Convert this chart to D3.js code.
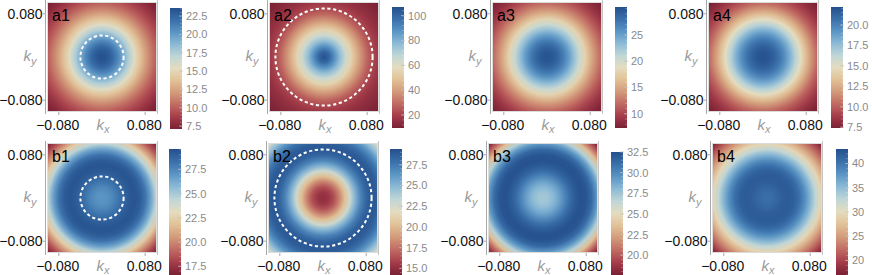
<!DOCTYPE html>
<html>
<head>
<meta charset="utf-8">
<script src="https://cdn.jsdelivr.net/npm/d3@7"></script>
<style>
  html, body { margin: 0; padding: 0; background: #fff; }
  svg { display: block; }
  text { font-family: "Liberation Sans", Arial, sans-serif; }
</style>
</head>
<body>
<svg id="chart" width="872" height="275"></svg>
<script>
// ---------------- DATA ----------------
const panelNames = ["a1", "a2", "a3", "a4", "b1", "b2", "b3", "b4"];
// radial distance |k| at which the radial profiles are sampled
const radii = [0, 0.01, 0.02, 0.03, 0.04, 0.05, 0.06, 0.07, 0.08, 0.09, 0.10, 0.11, 0.12, 0.13, 0.14];
// radial profiles (value vs |k|)
const profileA1 = [23.5, 23.2, 22.3, 20.9, 19.2, 17.4, 15.6, 13.9, 12.4, 11.1, 10.0, 9.1, 8.3, 7.6, 7.1];
const profileA2 = [106, 100, 88, 76, 65, 55, 45, 36, 28, 22, 18, 15, 13, 11.2, 9.8];
const profileA3 = [30.0, 29.7, 28.8, 27.3, 25.3, 23.0, 20.5, 18.0, 15.6, 13.5, 11.8, 10.3, 9.1, 8.1, 7.4];
const profileA4 = [22.0, 21.9, 21.4, 20.6, 19.5, 18.1, 16.5, 14.8, 13.1, 11.6, 10.3, 9.3, 8.5, 7.9, 7.4];
const profileB1 = [27.0, 27.1, 27.5, 28.1, 28.7, 29.2, 29.4, 29.1, 28.2, 26.6, 24.5, 22.3, 20.2, 18.4, 16.9];
const profileB2 = [15.0, 15.3, 16.3, 18.0, 20.2, 22.8, 25.2, 27.1, 28.4, 29.0, 28.8, 27.9, 26.5, 24.6, 22.5];
const profileB3 = [27.3, 27.5, 28.1, 29.0, 30.1, 31.2, 32.0, 32.4, 32.2, 31.3, 29.4, 26.8, 23.5, 20.5, 18.0];
const profileB4 = [40.5, 40.7, 41.3, 41.9, 42.1, 41.7, 40.4, 38.3, 35.6, 32.5, 29.3, 26.2, 23.3, 20.5, 17.5];
const profiles = [profileA1, profileA2, profileA3, profileA4, profileB1, profileB2, profileB3, profileB4];
// dashed white circle radius (in k units), 0 = none
const circleRadii = [0.04, 0.09, 0, 0, 0.04, 0.09, 0, 0];
// axis ticks
const kTicks = [-0.08, 0.08];
const cbarTicksA1 = [7.5, 10, 12.5, 15, 17.5, 20, 22.5];
const cbarTicksA2 = [20, 40, 60, 80, 100];
const cbarTicksA3 = [10, 15, 20, 25];
const cbarTicksA4 = [7.5, 10, 12.5, 15, 17.5, 20];
const cbarTicksB1 = [17.5, 20, 22.5, 25, 27.5];
const cbarTicksB2 = [15, 17.5, 20, 22.5, 25, 27.5];
const cbarTicksB3 = [20, 22.5, 25, 27.5, 30, 32.5];
const cbarTicksB4 = [20, 25, 30, 35, 40];
const cbarTicks = [cbarTicksA1, cbarTicksA2, cbarTicksA3, cbarTicksA4, cbarTicksB1, cbarTicksB2, cbarTicksB3, cbarTicksB4];
const cbarFormats = [".1f", "d", "d", ".1f", ".1f", ".1f", ".1f", "d"];
const cbarDomains = [[7.1, 23.6], [9.5, 107], [7.3, 30.3], [7.4, 22.2], [16.6, 29.6], [14.2, 29.4], [17.6, 32.5], [17.0, 43.0]];

// ---------------- LAYOUT / STYLE ----------------
const layout = [
  { x: 48,  y: 3,   cx: 170, cy: 8,   ch: 121 },
  { x: 270, y: 3,   cx: 392, cy: 7,   ch: 121 },
  { x: 493, y: 3,   cx: 615, cy: 7,   ch: 121 },
  { x: 709, y: 3,   cx: 831, cy: 7,   ch: 121 },
  { x: 48,  y: 144, cx: 169, cy: 149, ch: 126 },
  { x: 269, y: 144, cx: 390, cy: 149, ch: 126 },
  { x: 489, y: 144, cx: 611, cy: 152, ch: 123 },
  { x: 713, y: 144, cx: 836, cy: 149, ch: 126 }
];
const imgSize = 108;
const cbarW = 12;

// colormap similar to Mathematica "RedBlueTones"
const cmapStops = ["#7a2134", "#a53c4a", "#c06a62", "#d29a7a", "#e1c196", "#e4dcbf", "#bfd6d6", "#8bbad6", "#5a95c4", "#3a70aa", "#24508c"];
const cmap = d3.scaleLinear()
  .domain(d3.range(cmapStops.length).map(i => i / (cmapStops.length - 1)))
  .range(cmapStops)
  .interpolate(d3.interpolateLab);

const svg = d3.select("#chart");
const defs = svg.append("defs");

panelNames.forEach((name, i) => {
  const L = layout[i];
  const prof = profiles[i];
  const dom = cbarDomains[i];
  const t = d3.scaleLinear().domain(dom).range([0, 1]).clamp(true);
  const color = v => cmap(t(v));

  const kx = d3.scaleLinear().domain([-0.1, 0.1]).range([L.x, L.x + imgSize]);
  const ky = d3.scaleLinear().domain([-0.1, 0.1]).range([L.y + imgSize, L.y]);
  const rPix = d3.scaleLinear().domain([0, 0.1]).range([0, imgSize / 2]);
  const rMax = rPix(d3.max(radii));

  // radial gradient built from the radial profile
  const gid = "rg" + i;
  const rg = defs.append("radialGradient")
    .attr("id", gid)
    .attr("gradientUnits", "userSpaceOnUse")
    .attr("cx", kx(0)).attr("cy", ky(0)).attr("r", rMax)
    .attr("fx", kx(0)).attr("fy", ky(0));
  radii.forEach((r, j) => {
    rg.append("stop")
      .attr("offset", rPix(r) / rMax)
      .attr("stop-color", color(prof[j]));
  });

  const g = svg.append("g");

  // frame
  g.append("rect")
    .attr("x", L.x - 0.5).attr("y", L.y - 0.5)
    .attr("width", imgSize + 1).attr("height", imgSize + 1)
    .attr("fill", "none").attr("stroke", "#dcdcdc").attr("stroke-width", 1);

  // density map
  g.append("rect")
    .attr("x", kx(-0.1)).attr("y", ky(0.1))
    .attr("width", kx(0.1) - kx(-0.1)).attr("height", ky(-0.1) - ky(0.1))
    .attr("fill", `url(#${gid})`);

  // spines
  const sL = L.x - 2.5, sR = L.x + imgSize + 1.5;
  g.append("line").attr("x1", sL).attr("x2", sL).attr("y1", L.y - 3).attr("y2", L.y + imgSize + 3)
    .attr("stroke", "#a8a8a8").attr("stroke-width", 1);
  g.append("line").attr("x1", sR).attr("x2", sR).attr("y1", L.y - 3).attr("y2", L.y + imgSize + 3)
    .attr("stroke", "#c4c4c4").attr("stroke-width", 1);

  // dashed circle
  if (circleRadii[i] > 0) {
    g.append("circle")
      .attr("cx", kx(0)).attr("cy", ky(0)).attr("r", rPix(circleRadii[i]))
      .attr("fill", "none").attr("stroke", "#fff").attr("stroke-width", 2)
      .attr("stroke-dasharray", "3.2,2.6");
  }

  const fmtK = d3.format(".3f");
  // y ticks
  kTicks.forEach(v => {
    g.append("line").attr("x1", sL - 3).attr("x2", sL).attr("y1", ky(v)).attr("y2", ky(v))
      .attr("stroke", "#a8a8a8");
    g.append("text").attr("x", sL - 3).attr("y", ky(v)).attr("dy", "0.36em")
      .attr("text-anchor", "end").attr("font-size", 14).attr("fill", "#111")
      .text(fmtK(v));
  });
  // x ticks
  kTicks.forEach(v => {
    g.append("line").attr("x1", kx(v)).attr("x2", kx(v)).attr("y1", L.y + imgSize + 1).attr("y2", L.y + imgSize + 4)
      .attr("stroke", "#a8a8a8");
    g.append("text").attr("x", kx(v) - 1).attr("y", L.y + imgSize + 19)
      .attr("text-anchor", "middle").attr("font-size", 14).attr("fill", "#111")
      .text(fmtK(v));
  });

  // axis labels k_x, k_y
  const ylab = g.append("text").attr("x", L.x - 18).attr("y", ky(0) + 4)
    .attr("text-anchor", "middle").attr("font-size", 15).attr("font-style", "italic").attr("fill", "#9a9a9a");
  ylab.append("tspan").text("k");
  ylab.append("tspan").attr("font-size", 11).attr("dy", 4).text("y");
  const xlab = g.append("text").attr("x", kx(0) + 1).attr("y", L.y + imgSize + 19)
    .attr("text-anchor", "middle").attr("font-size", 15).attr("font-style", "italic").attr("fill", "#9a9a9a");
  xlab.append("tspan").text("k");
  xlab.append("tspan").attr("font-size", 11).attr("dy", 3).text("x");

  // panel label
  g.append("text").attr("x", L.x + 4).attr("y", L.y + 18)
    .attr("font-size", 16).attr("fill", "#000").text(name);

  // colorbar
  const cs = d3.scaleLinear().domain(dom).range([L.cy + L.ch, L.cy]);
  const lg = defs.append("linearGradient").attr("id", "cb" + i)
    .attr("x1", 0).attr("x2", 0).attr("y1", 1).attr("y2", 0);
  d3.range(0, 1.0001, 0.05).forEach(f => {
    lg.append("stop").attr("offset", f).attr("stop-color", cmap(f));
  });
  g.append("rect").attr("x", L.cx).attr("y", L.cy).attr("width", cbarW).attr("height", L.ch)
    .attr("fill", `url(#cb${i})`);
  // minor ticks
  const ticks = cbarTicks[i];
  const step = ticks[1] - ticks[0];
  const minor = d3.range(Math.ceil(dom[0] / (step / 5)) * (step / 5), dom[1], step / 5);
  minor.forEach(v => {
    g.append("line").attr("x1", L.cx + cbarW - 2).attr("x2", L.cx + cbarW).attr("y1", cs(v)).attr("y2", cs(v))
      .attr("stroke", "#ffffff").attr("stroke-opacity", 0.45).attr("stroke-width", 0.6);
  });
  const fmtC = d3.format(cbarFormats[i]);
  ticks.forEach(v => {
    g.append("line").attr("x1", L.cx + cbarW - 3).attr("x2", L.cx + cbarW + 1).attr("y1", cs(v)).attr("y2", cs(v))
      .attr("stroke", "#bbbbbb").attr("stroke-width", 0.7);
    g.append("text").attr("x", L.cx + cbarW + 4).attr("y", cs(v)).attr("dy", "0.36em")
      .attr("font-size", 11).attr("fill", "#8a8a8a").text(fmtC(v));
  });
});
</script>
</body>
</html>
